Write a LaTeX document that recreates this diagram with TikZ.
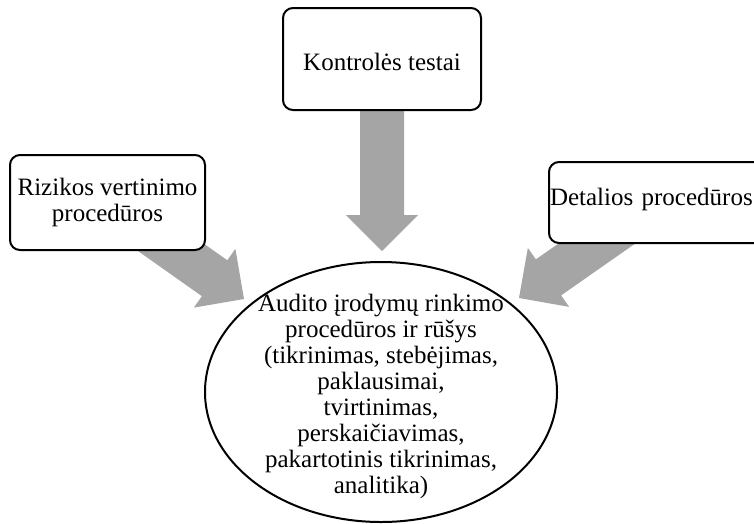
\documentclass[tikz,border=0pt]{standalone}
\usepackage{fontspec}
\setmainfont{Liberation Serif}
\usetikzlibrary{shapes.geometric,calc}
\pgfdeclarelayer{arrowlayer}
\pgfsetlayers{arrowlayer,main}
\definecolor{arrowgray}{HTML}{A5A5A5}
\tikzset{
  procbox/.style={draw=black, line width=2pt, rounded corners=10pt, fill=white,
    align=center, inner sep=0pt},
  bodytext/.style={font=\fontsize{25pt}{26pt}\selectfont},
  ovalbox/.style={draw=black, line width=2pt, ellipse, inner sep=0pt},
}
% wide grey block arrow from #1 to #2 (shaft 44pt, head 72pt wide and 36pt long)
\newcommand\blockarrow[2]{%
  \path let \p1=($(#2)-(#1)$) in
    \pgfextra{\pgfmathsetmacro\tmpang{atan2(\y1,\x1)}%
              \pgfmathsetmacro\tmplen{veclen(\x1,\y1)}%
              \xdef\arrAng{\tmpang}\xdef\arrLen{\tmplen}};
  \fill[arrowgray, shift={(#1)}, rotate=\arrAng]
    (0pt,-22pt) -- (\arrLen pt-36pt,-22pt) -- (\arrLen pt-36pt,-36pt)
    -- (\arrLen pt,0pt) -- (\arrLen pt-36pt,36pt) -- (\arrLen pt-36pt,22pt)
    -- (0pt,22pt) -- cycle;}
\begin{document}
\begin{tikzpicture}[x=1pt,y=-1pt]
  \useasboundingbox (0,0) rectangle (754,523);
  \clip (0,0) rectangle (754,523);

  % source boxes
  \node[procbox, bodytext, minimum width=198pt, minimum height=102pt,
        text height=23pt, text depth=0pt] (ktrl) at (382,59) {Kontrolės testai};
  \node[procbox, bodytext, minimum width=195pt, minimum height=95pt]
        (rizk) at (107.5,202.5) {Rizikos vertinimo\\procedūros};
  \node[procbox, bodytext, anchor=west, minimum width=227pt, minimum height=81pt,
        align=left, text width=225pt, inner xsep=1pt,
        text height=12pt, text depth=7pt] (detal) at (548,202.5) {Detalios procedūros};

  % target oval and its text
  \node[ovalbox, minimum width=352pt, minimum height=260pt] (aud) at (381,392) {};
  \node[bodytext, align=center, inner sep=0pt] (audtxt) at ($(aud.center)+(0,4)$)
    {Audito įrodymų rinkimo\\procedūros ir rūšys\\(tikrinimas, stebėjimas,\\paklausimai,\\tvirtinimas,\\perskaičiavimas,\\pakartotinis tikrinimas,\\analitika)};

  % arrow tips and tails
  \coordinate (tipK) at (382,251);
  \coordinate (tipR) at (244,299);
  \coordinate (tipD) at (519,298);
  \coordinate (tailD) at (655.5,202.5);

  \begin{pgfonlayer}{arrowlayer}
    \blockarrow{ktrl.center}{tipK}
    \blockarrow{rizk.center}{tipR}
    \blockarrow{tailD}{tipD}
  \end{pgfonlayer}
\end{tikzpicture}
\end{document}
